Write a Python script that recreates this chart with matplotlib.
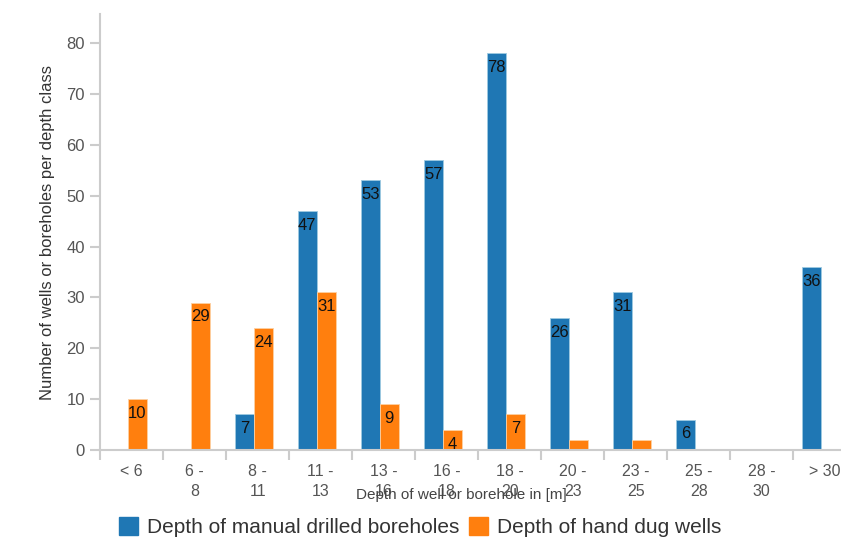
import numpy as np
import matplotlib.pyplot as plt
from matplotlib.patches import Patch

plt.rcParams['font.family'] = ['Liberation Sans', 'DejaVu Sans']

# depth classes and counts per class
categories = ['< 6', '6 -\n8', '8 -\n11', '11 -\n13', '13 -\n16', '16 -\n18',
              '18 -\n20', '20 -\n23', '23 -\n25', '25 -\n28', '28 -\n30', '> 30']
boreholes = [0, 0, 7, 47, 53, 57, 78, 26, 31, 6, 0, 36]
dug_wells = [10, 29, 24, 31, 9, 4, 7, 2, 2, 0, 0, 0]

blue = '#1f77b4'
orange = '#ff7f0e'
axis_grey = '#cccccc'

fig = plt.figure(figsize=(8.41, 5.39), dpi=100)
# the plot area runs a little past the right edge of the figure, as in the original
ax = fig.add_axes([0.119, 0.165, 0.899, 0.809])

x = np.arange(len(categories))
w = 0.30
b1 = ax.bar(x - 0.21, boreholes, w, color=blue, edgecolor='#9ecae1', linewidth=0.6)
b2 = ax.bar(x + 0.09, dug_wells, w, color=orange, edgecolor='#fdd0a2', linewidth=0.6)

# value labels just inside the top of each bar
for bars, vals in ((b1, boreholes), (b2, dug_wells)):
    for rect, v in zip(bars, vals):
        if v < 4:
            continue
        ax.annotate(str(v), (rect.get_x() + rect.get_width() / 2, v),
                    xytext=(0, -5), textcoords='offset points',
                    ha='center', va='top', fontsize=12, color='#111111')

ax.set_xlim(-0.5, len(categories) - 0.5)
ax.set_ylim(0, 85.7)
ax.set_yticks(np.arange(0, 81, 10))

ax.set_xticks(x)
ax.set_xticklabels(categories, fontsize=11.5, color='#555555', linespacing=1.45)
ax.tick_params(axis='x', length=0, pad=10)
ax.set_xticks(np.arange(-0.5, len(categories), 1), minor=True)
ax.tick_params(axis='x', which='minor', length=7, width=1.5, color=axis_grey)
ax.tick_params(axis='y', length=7, width=1.5, color=axis_grey, labelsize=12,
               labelcolor='#555555', pad=4)

for s in ('top', 'right'):
    ax.spines[s].set_visible(False)
for s in ('left', 'bottom'):
    ax.spines[s].set_color(axis_grey)
    ax.spines[s].set_linewidth(1.5)

ax.set_ylabel('Number of wells or boreholes per depth class', fontsize=12, color='#333333', labelpad=8)
fig.text(0.549, 0.082, 'Depth of well or borehole in [m]', ha='center', va='center',
         fontsize=11, color='#444444')

handles = [Patch(color=blue, label='Depth of manual drilled boreholes'),
           Patch(color=orange, label='Depth of hand dug wells')]
fig.legend(handles=handles, loc='center', bbox_to_anchor=(0.5, 0.022), ncol=2, frameon=False,
           fontsize=15, handlelength=0.9, handleheight=0.9, handletextpad=0.45, columnspacing=0.45,
           labelcolor='#333333')

fig.savefig('out.png', dpi=100)
